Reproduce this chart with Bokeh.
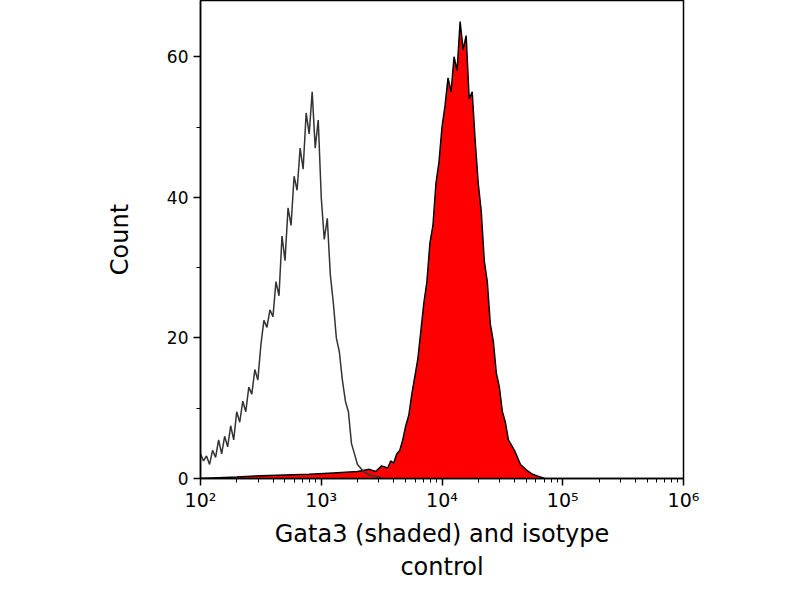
import numpy as np
from bokeh.plotting import figure
from bokeh.models import LogTicker, FixedTicker
from bokeh.embed import file_html
from bokeh.resources import INLINE

# log10 positions of histogram bins
iso_logx = [2.00,2.025,2.05,2.075,2.10,2.125,2.15,2.175,2.20,2.225,2.25,2.275,2.30,2.325,2.35,2.375,2.40,2.425,2.45,2.475,
            2.50,2.525,2.55,2.575,2.60,2.625,2.65,2.675,2.70,2.725,2.75,2.775,2.80,2.825,2.85,2.875,2.90,2.925,2.95,2.975,
            3.00,3.025,3.05,3.075,3.10,3.125,3.15,3.175,3.20,3.225,3.25,3.275,3.30,3.325,3.35,3.40,3.45,3.50]
iso_count = [3.5,2.5,3.2,2.0,4.0,3.0,5.5,3.5,6.0,4.5,7.5,5.5,9.5,8.0,11.0,9.5,13.0,12.0,15.5,14.0,
             19.0,22.5,21.5,24.0,23.0,28.0,26.0,34.5,31.0,38.5,36.0,43.0,41.0,47.0,44.0,52.0,49.0,55.0,47.0,51.0,
             40.0,34.0,37.0,29.0,25.0,20.0,18.0,14.0,11.0,9.5,5.0,3.5,2.0,1.5,1.0,0.5,0.3,0.1]

g_logx = [2.0,2.3,2.5,2.7,2.9,3.1,3.3,3.40,3.45,3.50,3.55,3.575,3.60,3.625,3.65,3.675,3.70,3.725,3.75,3.775,
          3.80,3.825,3.85,3.875,3.90,3.925,3.95,3.975,4.00,4.025,4.05,4.075,4.10,4.125,4.15,4.175,4.20,4.225,4.25,4.275,
          4.30,4.325,4.35,4.375,4.40,4.425,4.45,4.475,4.50,4.525,4.55,4.60,4.65,4.70,4.75,4.80,4.85]
g_count = [0.0,0.2,0.4,0.5,0.6,0.8,1.0,1.3,1.0,1.8,1.5,2.5,2.2,3.5,4.0,5.5,7.5,9.0,12.0,14.5,
           17.0,21.0,25.0,28.0,33.5,36.0,42.0,45.0,50.0,53.0,57.0,55.0,60.0,58.0,65.0,61.0,63.0,54.0,55.0,48.0,
           42.0,38.0,31.0,28.0,22.0,19.5,15.0,13.0,9.5,8.0,5.5,4.0,2.0,1.2,0.6,0.3,0.0]

x_ticks = [1e2, 1e3, 1e4, 1e5, 1e6]
x_labels = ["10²", "10³", "10⁴", "10⁵", "10⁶"]
y_ticks = [0, 20, 40, 60]

iso_x = [10**v for v in iso_logx]
g_x = [10**v for v in g_logx]

p = figure(width=784, height=584, x_axis_type="log", x_range=(1e2, 1e6), y_range=(0, 68),
           output_backend="svg", toolbar_location=None,
           min_border_left=200, min_border_right=101, min_border_top=0, min_border_bottom=60)
p.grid.visible = False
p.outline_line_color = "black"
p.outline_line_width = 1.5

p.varea(x=g_x, y1=[0]*len(g_x), y2=g_count, fill_color="#ff0000")
p.line(g_x, g_count, line_color="black", line_width=1.5)
p.line(iso_x, iso_count, line_color="#333333", line_width=1.5)

p.xaxis.ticker = LogTicker(desired_num_ticks=5, num_minor_ticks=10)
p.xaxis.major_label_overrides = {t: l for t, l in zip(x_ticks, x_labels)}
p.yaxis.ticker = FixedTicker(ticks=y_ticks, minor_ticks=[10, 30, 50])

for ax in (p.xaxis[0], p.yaxis[0]):
    ax.major_tick_in = 0
    ax.major_tick_out = 7
    ax.minor_tick_in = 0
    ax.minor_tick_out = 4
    ax.axis_line_width = 1.5
    ax.major_tick_line_width = 1.5
    ax.major_label_text_font = "DejaVu Sans"
    ax.major_label_text_font_size = "17px"
    ax.major_label_text_color = "black"
    ax.axis_label_text_font = "DejaVu Sans"
    ax.axis_label_text_font_size = "24px"
    ax.axis_label_text_color = "black"
    ax.axis_label_text_font_style = "normal"

p.xaxis.major_label_text_font_size = "19px"
p.xaxis.major_label_standoff = 3
p.xaxis.axis_label_standoff = 6
p.xaxis.axis_label = "Gata3 (shaded) and isotype\ncontrol"
p.yaxis.axis_label = "Count"
p.yaxis.axis_label_standoff = 30

open("out.html", "w").write(file_html(p, INLINE))
